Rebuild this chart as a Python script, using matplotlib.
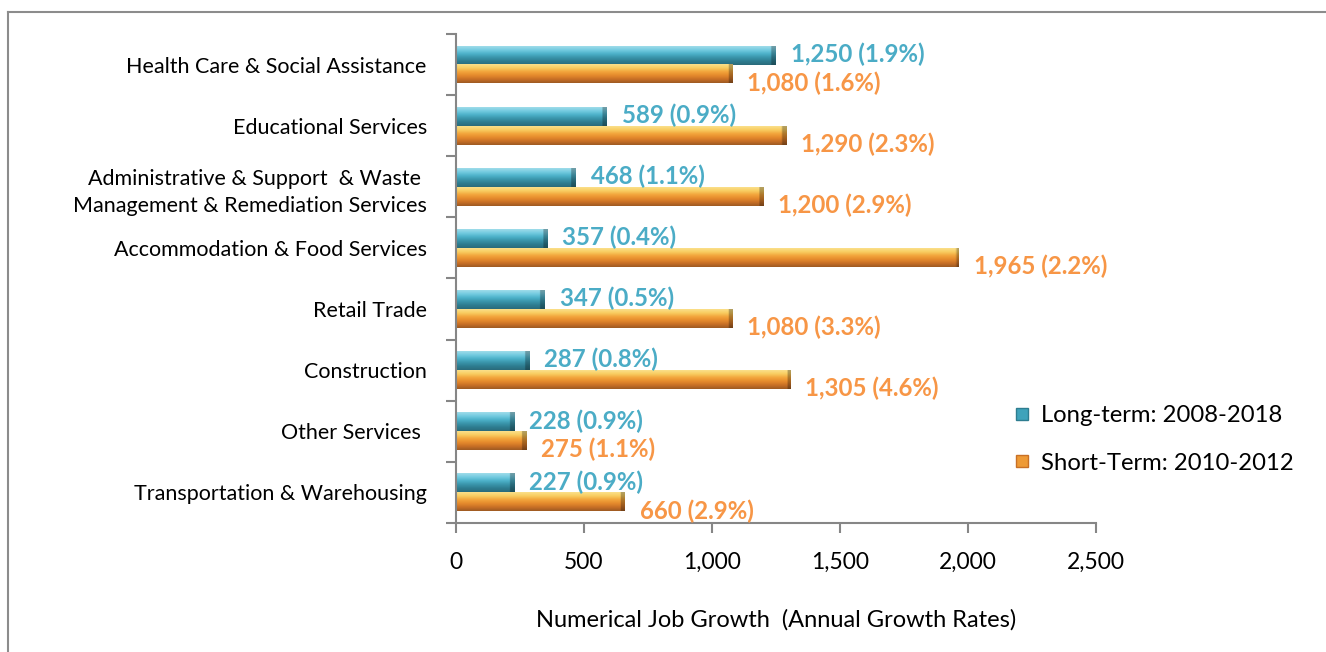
import numpy as np
import matplotlib.pyplot as plt
from matplotlib.colors import LinearSegmentedColormap
from matplotlib.lines import Line2D

plt.rcParams['font.family'] = ['Lato', 'DejaVu Sans']

categories = [
    'Health Care & Social Assistance',
    'Educational Services',
    'Administrative & Support  & Waste \nManagement & Remediation Services',
    'Accommodation & Food Services',
    'Retail Trade',
    'Construction',
    'Other Services ',
    'Transportation & Warehousing',
]
long_term = [1250, 589, 468, 357, 347, 287, 228, 227]
long_pct = [1.9, 0.9, 1.1, 0.4, 0.5, 0.8, 0.9, 0.9]
short_term = [1080, 1290, 1200, 1965, 1080, 1305, 275, 660]
short_pct = [1.6, 2.3, 2.9, 2.2, 3.3, 4.6, 1.1, 2.9]
series_names = ['Long-term: 2008-2018', 'Short-Term: 2010-2012']
xticks = [0, 500, 1000, 1500, 2000, 2500]

# vertical shading, top -> bottom, to give the bars a rounded look
blue_shade = LinearSegmentedColormap.from_list(
    'blue_shade', ['#9fdcea', '#74cbe0', '#4db2ca', '#3a95ab', '#2e7d90', '#2a6b7b'])
orange_shade = LinearSegmentedColormap.from_list(
    'orange_shade', ['#fbe08a', '#f8cc60', '#f2a53c', '#e58a2c', '#c87026', '#9e5a22'])
blue_label = '#4bacc6'
orange_label = '#f79646'
axis_grey = '#868686'

fig = plt.figure(figsize=(13.26, 6.52), dpi=100)
ax = fig.add_axes([0.3439, 0.1979, 0.4826, 0.75])

n = len(categories)
y = np.arange(n)
h = 0.31


def shaded_bars(values, offset, cmap):
    bars = ax.barh(y + offset, values, height=h, align='edge',
                   color='none', edgecolor='none', zorder=2)
    grad = np.linspace(0, 1, 64)
    for bar, v in zip(bars, values):
        y0 = bar.get_y()
        img = np.tile(grad[:, None], (1, 200))
        # darker cap at the end of each bar
        px = v * 0.256
        cap = max(1, int(200 * 5 / px))
        img_rgb = cmap(img)[..., :3]
        img_rgb[:, -cap:] *= 0.72
        ax.imshow(img_rgb, extent=(0, v, y0 + h, y0), origin='upper',
                  aspect='auto', interpolation='bilinear', zorder=2)
    return bars


shaded_bars(long_term, -h, blue_shade)
shaded_bars(short_term, 0, orange_shade)

for yi, v, p in zip(y, long_term, long_pct):
    ax.annotate(f'{v:,} ({p}%)', xy=(v, yi - h / 2), xytext=(15, 1),
                textcoords='offset pixels', va='center', ha='left',
                fontsize=17.3, fontweight='bold', color=blue_label)
for yi, v, p in zip(y, short_term, short_pct):
    ax.annotate(f'{v:,} ({p}%)', xy=(v, yi + h / 2), xytext=(15, -9),
                textcoords='offset pixels', va='center', ha='left',
                fontsize=17.3, fontweight='bold', color=orange_label)

ax.set_xlim(0, 2500)
ax.set_ylim(n - 0.5, -0.5)
ax.set_xticks(xticks)
ax.set_xticklabels([f'{t:,}' for t in xticks], fontsize=16.5)
ax.set_yticks(y)
ax.set_yticklabels(categories, fontsize=15.5, linespacing=1.45)
ax.set_yticks(np.arange(n + 1) - 0.5, minor=True)
ax.tick_params(axis='y', which='major', length=0, pad=21)
ax.tick_params(axis='y', which='minor', length=7, color=axis_grey, width=1.5)
ax.tick_params(axis='x', length=7, color=axis_grey, width=1.5, pad=14)
for s in ['top', 'right']:
    ax.spines[s].set_visible(False)
for s in ['left', 'bottom']:
    ax.spines[s].set_color(axis_grey)
    ax.spines[s].set_linewidth(1.5)
ax.set_xlabel('Numerical Job Growth  (Annual Growth Rates)', fontsize=17, labelpad=26)

handles = [
    Line2D([], [], marker='s', linestyle='none', markersize=9,
           markerfacecolor='#3fa3bb', markeredgecolor='#2e7d90'),
    Line2D([], [], marker='s', linestyle='none', markersize=9,
           markerfacecolor='#ee9a36', markeredgecolor='#c87026'),
]
fig.legend(handles, series_names, loc='center left', bbox_to_anchor=(0.749, 0.326),
           frameon=False, fontsize=17.2, handlelength=0.6, handletextpad=0.5,
           labelspacing=1.1)

# chart frame
fig.add_artist(Line2D([8 / 1326, 1], [1 - 12 / 652, 1 - 12 / 652],
                      transform=fig.transFigure, color='#8c8c8c', lw=1.5))
fig.add_artist(Line2D([8 / 1326, 8 / 1326], [0, 1 - 12 / 652],
                      transform=fig.transFigure, color='#8c8c8c', lw=1.5))

fig.savefig('out.png', dpi=100)
